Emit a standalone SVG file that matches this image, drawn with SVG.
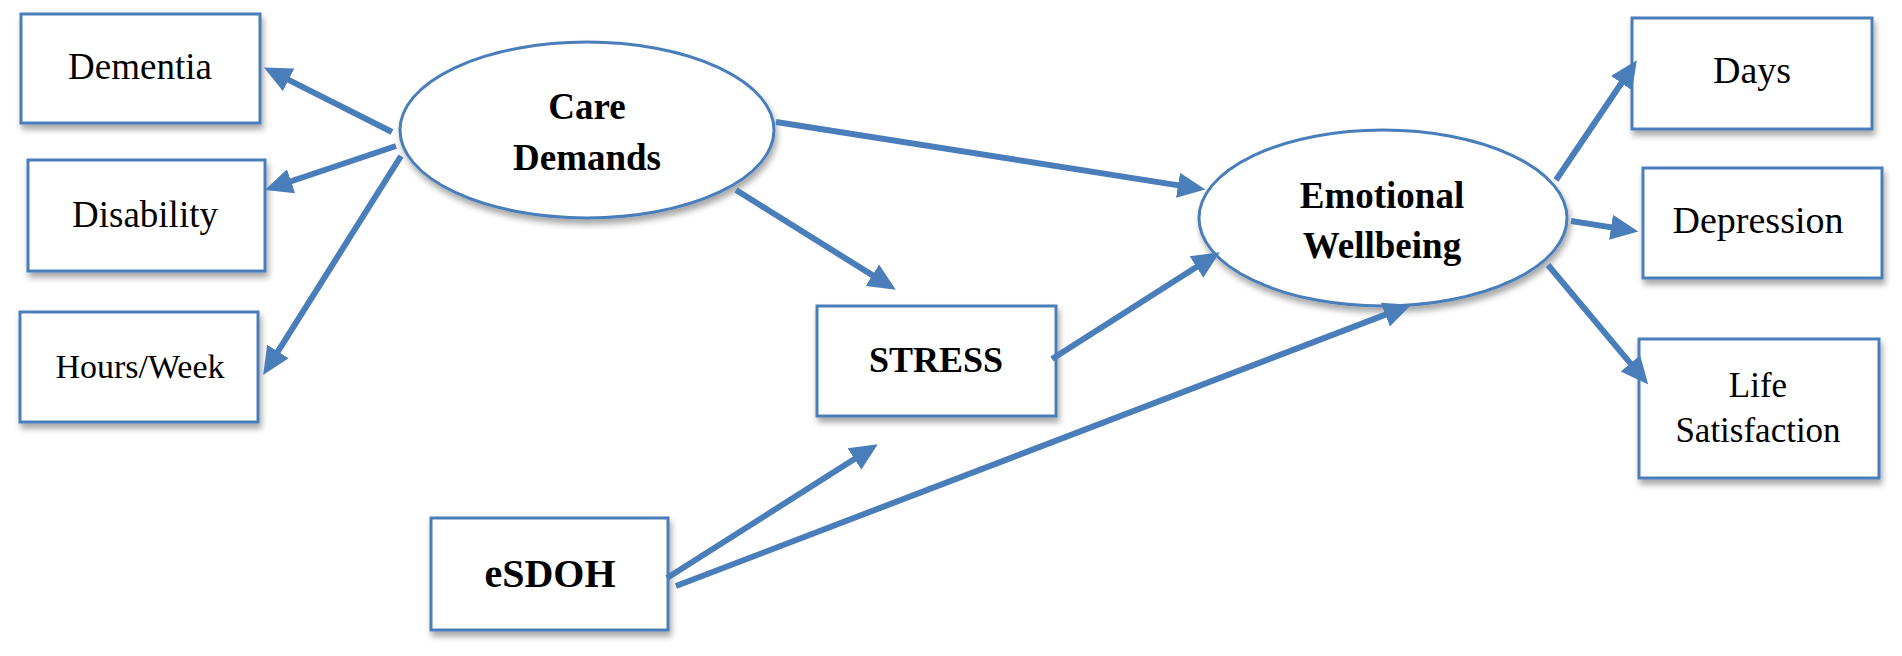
<svg xmlns="http://www.w3.org/2000/svg" width="1902" height="656" viewBox="0 0 1902 656">
<style>
.box{fill:#fff;stroke:#4a7ebb;stroke-width:3;filter:url(#sh)}
.ell{fill:#fff;stroke:#4a7ebb;stroke-width:3;filter:url(#sh)}
.t{font-family:"Liberation Serif","Times New Roman",serif;fill:#000;text-anchor:middle}
.b{font-weight:bold}
.c line{stroke:#4a7ebb;stroke-width:6;marker-end:url(#ah)}
</style>
<defs>
<filter id="sh" x="-10%" y="-10%" width="120%" height="130%">
<feDropShadow dx="2" dy="5" stdDeviation="3" flood-color="#000" flood-opacity="0.35"/>
</filter>
<marker id="ah" markerUnits="userSpaceOnUse" markerWidth="30" markerHeight="30" viewBox="0 -12 26 24" refX="2" refY="0" orient="auto">
<path d="M0,-11 L24,0 L0,11 z" fill="#4a7ebb"/>
</marker>
</defs>
<rect width="1902" height="656" fill="#fff"/>
<g id="dementia"><rect class="box" x="21" y="14" width="239" height="109"/><text class="t" x="140" y="79" font-size="37">Dementia</text></g>
<g id="disability"><rect class="box" x="28" y="160" width="237" height="111"/><text class="t" x="145" y="227" font-size="37">Disability</text></g>
<g id="hoursweek"><rect class="box" x="20" y="312" width="238" height="110"/><text class="t" x="140" y="378" font-size="34">Hours/Week</text></g>
<g id="caredemands"><ellipse class="ell" cx="587" cy="130" rx="187" ry="88"/><text class="t b" x="587" y="119" font-size="37">Care</text><text class="t b" x="587" y="170" font-size="37">Demands</text></g>
<g id="stress"><rect class="box" x="817" y="306" width="239" height="110"/><text class="t b" x="936" y="372" font-size="36">STRESS</text></g>
<g id="esdoh"><rect class="box" x="431" y="518" width="237" height="112"/><text class="t b" x="550" y="587" font-size="40">eSDOH</text></g>
<g id="emotional"><ellipse class="ell" cx="1383" cy="218" rx="184" ry="88"/><text class="t b" x="1382" y="208" font-size="37">Emotional</text><text class="t b" x="1382" y="258" font-size="37">Wellbeing</text></g>
<g id="days"><rect class="box" x="1632" y="18" width="240" height="111"/><text class="t" x="1752" y="83" font-size="38">Days</text></g>
<g id="depression"><rect class="box" x="1643" y="168" width="239" height="110"/><text class="t" x="1758" y="233" font-size="38">Depression</text></g>
<g id="lifesat"><rect class="box" x="1639" y="339" width="240" height="139"/><text class="t" x="1758" y="397" font-size="35">Life</text><text class="t" x="1758" y="442" font-size="35">Satisfaction</text></g>
<g id="connectors" class="c">
<line x1="392" y1="132" x2="286.6" y2="78.9"/>
<line x1="396" y1="146" x2="288.9" y2="182"/>
<line x1="401" y1="156" x2="276.7" y2="353.4"/>
<line x1="776" y1="122" x2="1180.3" y2="185.6"/>
<line x1="736" y1="190" x2="874.3" y2="276.4"/>
<line x1="1052" y1="359" x2="1198.4" y2="265.8"/>
<line x1="667" y1="578" x2="856.4" y2="457.8"/>
<line x1="676" y1="586" x2="1387.5" y2="313.9"/>
<line x1="1556" y1="180" x2="1622.7" y2="81.2"/>
<line x1="1571" y1="221" x2="1613.3" y2="227.6"/>
<line x1="1548" y1="265" x2="1631.9" y2="365.1"/>
</g>
</svg>
